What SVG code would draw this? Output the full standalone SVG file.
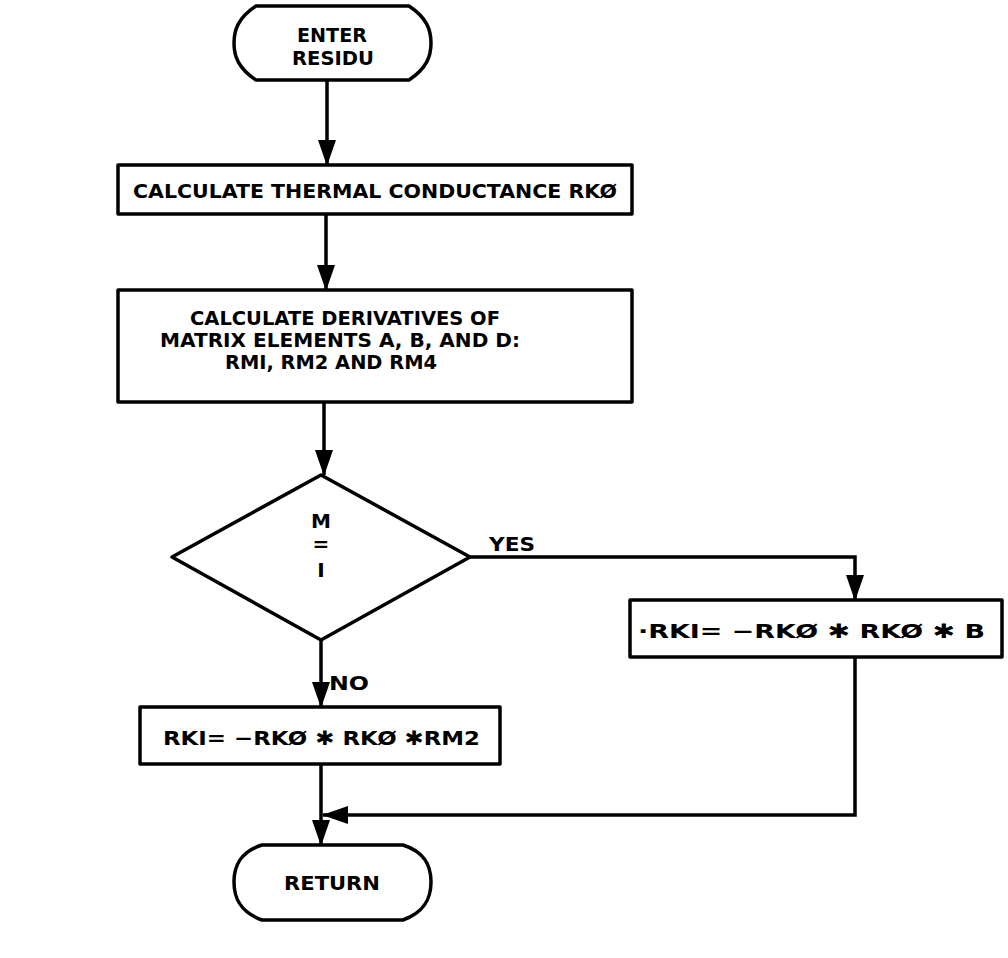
<svg xmlns="http://www.w3.org/2000/svg" width="1008" height="958" viewBox="0 0 1008 958">
<style>
.shape{fill:#fff;stroke:#000;stroke-width:3.5;stroke-linejoin:round}
.conn{fill:none;stroke:#000;stroke-width:3.5}
text{font-family:"DejaVu Sans","Liberation Sans",sans-serif;font-weight:bold;font-size:20px;fill:#000}
.c{text-anchor:middle}
</style>
<defs>
<marker id="ah" viewBox="0 0 26 18" markerWidth="26" markerHeight="18" refX="25" refY="9" orient="auto" markerUnits="userSpaceOnUse">
<path d="M0,0 L26,9 L0,18 Z" fill="#000"/>
</marker>
</defs>
<rect width="1008" height="958" fill="#fff"/>
<g id="connectors">
<path class="conn" d="M327,80 V165" marker-end="url(#ah)"/>
<path class="conn" d="M326,214 V290" marker-end="url(#ah)"/>
<path class="conn" d="M324,402 V475" marker-end="url(#ah)"/>
<path class="conn" d="M470,557 H855 V600" marker-end="url(#ah)"/>
<path class="conn" d="M321,640 V707" marker-end="url(#ah)"/>
<path class="conn" d="M321,764 V845" marker-end="url(#ah)"/>
<path class="conn" d="M855,657 V815 H323" marker-end="url(#ah)"/>
<text x="489" y="551" textLength="46" lengthAdjust="spacingAndGlyphs">YES</text>
<text x="329" y="690" textLength="40" lengthAdjust="spacingAndGlyphs">NO</text>
</g>
<g id="enter">
<path class="shape" d="M256,6 H409 C427,18 431,30 431,43 C431,56 427,68 409,80 H256 C238,68 234,56 234,43 C234,30 238,18 256,6 Z"/>
<text class="c" x="332" y="42" textLength="70" lengthAdjust="spacingAndGlyphs">ENTER</text>
<text class="c" x="333" y="65" textLength="82" lengthAdjust="spacingAndGlyphs">RESIDU</text>
</g>
<g id="calc_rk0">
<rect class="shape" x="118" y="165" width="514" height="49"/>
<text x="133" y="198" font-size="21" textLength="484" lengthAdjust="spacingAndGlyphs">CALCULATE THERMAL CONDUCTANCE RKØ</text>
</g>
<g id="calc_deriv">
<rect class="shape" x="118" y="290" width="514" height="112"/>
<text class="c" x="345" y="325" font-size="19" textLength="310" lengthAdjust="spacingAndGlyphs">CALCULATE DERIVATIVES OF</text>
<text class="c" x="340" y="347" font-size="19" textLength="360" lengthAdjust="spacingAndGlyphs">MATRIX ELEMENTS A, B, AND D:</text>
<text class="c" x="331" y="369" font-size="20" textLength="212" lengthAdjust="spacingAndGlyphs">RMI, RM2 AND RM4</text>
</g>
<g id="decision">
<path class="shape" d="M321,475 L470,557 L321,640 L172,557 Z"/>
<text class="c" x="321" y="528" font-size="18">M</text>
<text class="c" x="321" y="551" font-size="15">=</text>
<text class="c" x="321" y="577" font-size="21">I</text>
</g>
<g id="yes_box">
<rect class="shape" x="630" y="600" width="372" height="57"/>
<text x="638" y="638" font-size="22" textLength="347" lengthAdjust="spacingAndGlyphs">·RKI= −RKØ ✱ RKØ ✱ B</text>
</g>
<g id="no_box">
<rect class="shape" x="140" y="707" width="360" height="57"/>
<text x="163" y="745" font-size="22" textLength="317" lengthAdjust="spacingAndGlyphs">RKI= −RKØ ✱ RKØ ✱RM2</text>
</g>
<g id="return">
<path class="shape" d="M262,845 H403 C425,852 431,866 431,882 C431,898 425,912 403,920 H262 C240,912 234,898 234,882 C234,866 240,852 262,845 Z"/>
<text class="c" x="332" y="890" textLength="96" lengthAdjust="spacingAndGlyphs">RETURN</text>
</g>
</svg>
